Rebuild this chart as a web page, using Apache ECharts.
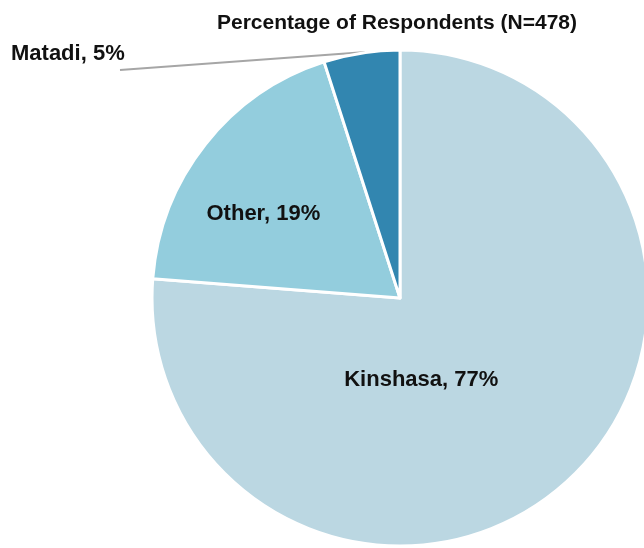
<!DOCTYPE html>
<html>
<head>
<meta charset="utf-8">
<script src="https://cdn.jsdelivr.net/npm/echarts@6/dist/echarts.min.js"></script>
<style>
  html, body { margin: 0; padding: 0; background: #fff; }
  #chart { width: 644px; height: 548px; }
</style>
</head>
<body>
<div id="chart"></div>
<script>
// cities and their share of respondents (%)
var cities = ['Kinshasa', 'Other', 'Matadi'];
var shares = [77, 19, 5];
var colors = ['#bbd7e2', '#93cddd', '#3286b0'];

var chart = echarts.init(document.getElementById('chart'));

var pieData = [];
for (var i = 0; i < cities.length; i++) {
    pieData.push({ name: cities[i], value: shares[i], itemStyle: { color: colors[i] } });
}
// nudge the inside labels to where they sit in the original
pieData[0].label = { offset: [-65, -11] };
pieData[1].label = { offset: [-37, -5] };

var font = 'Liberation Sans, Arial, sans-serif';

chart.setOption({
    title: {
        text: 'Percentage of Respondents (N=478)',
        left: 212,
        top: 8,
        textStyle: { fontFamily: font, fontSize: 21, fontWeight: 'bold', color: '#111' }
    },
    series: [{
        type: 'pie',
        center: [400, 298],
        radius: 248,
        startAngle: 90,
        clockwise: true,
        animation: false,
        silent: true,
        itemStyle: { borderColor: '#fff', borderWidth: 3 },
        label: {
            show: true,
            position: 'inside',
            formatter: function (p) { return p.name + ', ' + p.value + '%'; },
            fontFamily: font,
            fontSize: 22,
            fontWeight: 'bold',
            color: '#111'
        },
        labelLine: { show: false },
        labelLayout: function (p) {
            if (p.dataIndex === 2) {
                return { x: 11, y: 54, align: 'left', verticalAlign: 'middle' };
            }
        },
        data: pieData
    }],
    graphic: [{
        // leader line for the small Matadi slice
        type: 'line',
        shape: { x1: 120, y1: 70, x2: 366, y2: 52 },
        style: { stroke: '#a6a6a6', lineWidth: 2 }
    }]
});
</script>
</body>
</html>
